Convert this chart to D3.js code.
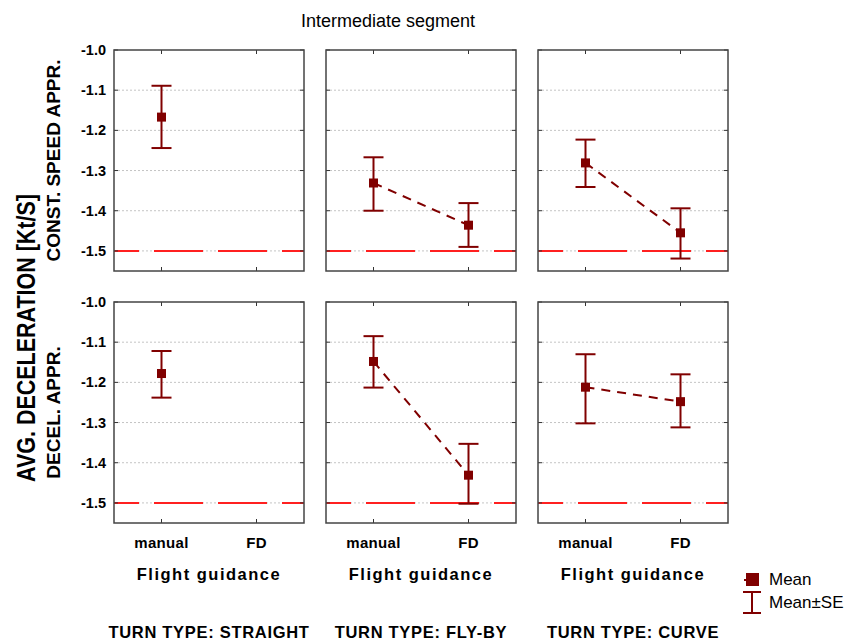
<!DOCTYPE html>
<html>
<head>
<meta charset="utf-8">
<script src="https://cdn.jsdelivr.net/npm/d3@7"></script>
<style>
  body { margin: 0; background: #fff; }
  svg { font-family: Arial, "Liberation Sans", sans-serif; }
</style>
</head>
<body>
<svg id="chart" width="858" height="642"></svg>
<script>
// categories
const turnTypes = ["STRAIGHT", "FLY-BY", "CURVE"];
const approaches = ["CONST. SPEED APPR.", "DECEL. APPR."];
const guidance = ["manual", "FD"];
const yTicks = [-1.0, -1.1, -1.2, -1.3, -1.4, -1.5];
const reference = -1.5;

// means and mean +/- SE, one row per turn type, [manual, FD]
const meanConst = [[-1.167, null], [-1.331, -1.436], [-1.281, -1.455]];
const hiConst   = [[-1.089, null], [-1.267, -1.381], [-1.223, -1.394]];
const loConst   = [[-1.244, null], [-1.400, -1.490], [-1.341, -1.519]];
const meanDecel = [[-1.178, null], [-1.148, -1.431], [-1.212, -1.248]];
const hiDecel   = [[-1.122, null], [-1.085, -1.353], [-1.130, -1.180]];
const loDecel   = [[-1.238, null], [-1.213, -1.502], [-1.302, -1.312]];

const means = [meanConst, meanDecel];
const highs = [hiConst, hiDecel];
const lows = [loConst, loDecel];

const dark = "#800000";
const panelW = 190, panelH = 221;
const colX = [114, 326, 538];
const rowY = [50, 302];

const svg = d3.select("#chart");

const x = d3.scalePoint().domain(guidance).range([0, panelW]).padding(0.5);
const y = d3.scaleLinear().domain([-1.55, -1.0]).range([panelH, 0]);

// title
svg.append("text")
  .attr("x", 388).attr("y", 27)
  .attr("text-anchor", "middle")
  .attr("font-size", 18)
  .text("Intermediate segment");

// main y title (glyphs a bit taller, like the original export)
svg.append("text")
  .attr("transform", "translate(35,338) rotate(-90) scale(1,1.17)")
  .attr("text-anchor", "middle")
  .attr("font-size", 21.5).attr("font-weight", "bold")
  .text("AVG. DECELERATION [Kt/S]");

approaches.forEach(function (ap, r) {
  svg.append("text")
    .attr("transform", "translate(60," + (rowY[r] + panelH / 2) + ") rotate(-90)")
    .attr("text-anchor", "middle")
    .attr("font-size", 19).attr("font-weight", "bold")
    .text(ap);

  turnTypes.forEach(function (tt, c) {
    const g = svg.append("g").attr("transform", "translate(" + colX[c] + "," + rowY[r] + ")");

    // grid lines
    g.selectAll("line.grid").data(yTicks.slice(1)).enter().append("line")
      .attr("x1", 0).attr("x2", panelW)
      .attr("y1", d => y(d)).attr("y2", d => y(d))
      .attr("stroke", "#c4c4c4").attr("stroke-width", 1)
      .attr("stroke-dasharray", "2,2");

    // reference line
    g.append("line")
      .attr("x1", 0).attr("x2", panelW)
      .attr("y1", y(reference)).attr("y2", y(reference))
      .attr("stroke", "#ff2020").attr("stroke-width", 2)
      .attr("stroke-dasharray", "49,15").attr("stroke-dashoffset", 24);

    // ticks inward, left and right
    g.selectAll("line.tl").data(yTicks).enter().append("line")
      .attr("x1", 0).attr("x2", 4)
      .attr("y1", d => y(d)).attr("y2", d => y(d))
      .attr("stroke", "#333").attr("stroke-width", 1);
    g.selectAll("line.tr").data(yTicks).enter().append("line")
      .attr("x1", panelW - 4).attr("x2", panelW)
      .attr("y1", d => y(d)).attr("y2", d => y(d))
      .attr("stroke", "#333").attr("stroke-width", 1);
    g.selectAll("line.tt").data(guidance).enter().append("line")
      .attr("x1", d => x(d)).attr("x2", d => x(d))
      .attr("y1", 0).attr("y2", 4)
      .attr("stroke", "#333").attr("stroke-width", 1);
    g.selectAll("line.tb").data(guidance).enter().append("line")
      .attr("x1", d => x(d)).attr("x2", d => x(d))
      .attr("y1", panelH - 4).attr("y2", panelH)
      .attr("stroke", "#333").attr("stroke-width", 1);

    // frame
    g.append("rect")
      .attr("width", panelW).attr("height", panelH)
      .attr("fill", "none").attr("stroke", "#444").attr("stroke-width", 1.5);

    // y tick labels on first column
    if (c === 0) {
      g.selectAll("text.yl").data(yTicks).enter().append("text")
        .attr("x", -8).attr("y", d => y(d) + 5)
        .attr("text-anchor", "end")
        .attr("font-size", 14.5).attr("font-weight", "bold")
        .text(d => d.toFixed(1));
    }

    const pts = guidance.map(function (gd, i) {
      return { k: gd, m: means[r][c][i], hi: highs[r][c][i], lo: lows[r][c][i] };
    }).filter(d => d.m !== null);

    // connecting dashed line
    if (pts.length > 1) {
      g.append("path")
        .datum(pts)
        .attr("d", d3.line().x(d => x(d.k)).y(d => y(d.m)))
        .attr("fill", "none").attr("stroke", dark).attr("stroke-width", 2)
        .attr("stroke-dasharray", "9,7");
    }

    // error bars
    const eb = g.selectAll("g.eb").data(pts).enter().append("g");
    eb.append("line")
      .attr("x1", d => x(d.k)).attr("x2", d => x(d.k))
      .attr("y1", d => y(d.hi)).attr("y2", d => y(d.lo))
      .attr("stroke", dark).attr("stroke-width", 2);
    eb.append("line")
      .attr("x1", d => x(d.k) - 10).attr("x2", d => x(d.k) + 10)
      .attr("y1", d => y(d.hi)).attr("y2", d => y(d.hi))
      .attr("stroke", dark).attr("stroke-width", 2);
    eb.append("line")
      .attr("x1", d => x(d.k) - 10).attr("x2", d => x(d.k) + 10)
      .attr("y1", d => y(d.lo)).attr("y2", d => y(d.lo))
      .attr("stroke", dark).attr("stroke-width", 2);

    // mean markers
    g.selectAll("rect.mk").data(pts).enter().append("rect")
      .attr("x", d => x(d.k) - 4.5).attr("y", d => y(d.m) - 4.5)
      .attr("width", 9).attr("height", 9)
      .attr("fill", dark);

    // x labels on bottom row
    if (r === 1) {
      g.selectAll("text.xl").data(guidance).enter().append("text")
        .attr("x", d => x(d)).attr("y", panelH + 25)
        .attr("text-anchor", "middle")
        .attr("font-size", 15).attr("font-weight", "bold")
        .attr("letter-spacing", 0.3)
        .text(d => d);
      g.append("text")
        .attr("x", panelW / 2).attr("y", panelH + 57)
        .attr("text-anchor", "middle")
        .attr("font-size", 16.5).attr("font-weight", "bold")
        .attr("letter-spacing", 1.5)
        .text("Flight guidance");
      g.append("text")
        .attr("x", panelW / 2).attr("y", panelH + 115)
        .attr("text-anchor", "middle")
        .attr("font-size", 16.5).attr("font-weight", "bold")
        .attr("letter-spacing", 0.7)
        .text("TURN TYPE: " + tt);
    }
  });
});

// legend
const lg = svg.append("g").attr("transform", "translate(752,0)");
lg.append("line").attr("x1", -8).attr("x2", 0).attr("y1", 580).attr("y2", 580)
  .attr("stroke", dark).attr("stroke-width", 2);
lg.append("rect").attr("x", -6).attr("y", 573).attr("width", 13).attr("height", 13).attr("fill", dark);
lg.append("text").attr("x", 17).attr("y", 585).attr("font-size", 17).text("Mean");
lg.append("line").attr("x1", 0).attr("x2", 0).attr("y1", 592).attr("y2", 613)
  .attr("stroke", dark).attr("stroke-width", 2);
lg.append("line").attr("x1", -9).attr("x2", 9).attr("y1", 592).attr("y2", 592)
  .attr("stroke", dark).attr("stroke-width", 2);
lg.append("line").attr("x1", -9).attr("x2", 9).attr("y1", 613).attr("y2", 613)
  .attr("stroke", dark).attr("stroke-width", 2);
lg.append("text").attr("x", 17).attr("y", 608).attr("font-size", 17).text("Mean\u00b1SE");
</script>
</body>
</html>
